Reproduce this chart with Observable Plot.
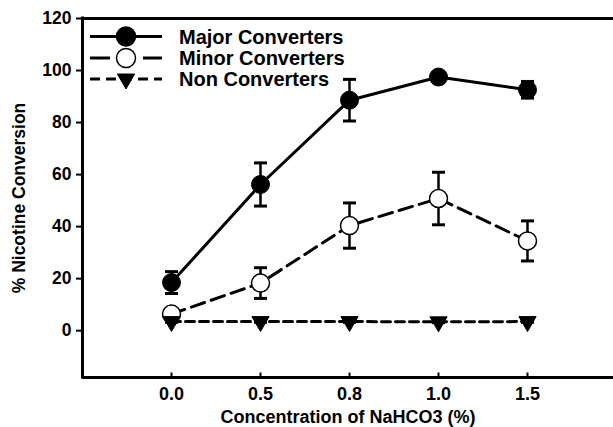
<!DOCTYPE html>
<html><head><meta charset="utf-8">
<script src="https://cdn.jsdelivr.net/npm/d3@7"></script>
<script src="https://cdn.jsdelivr.net/npm/@observablehq/plot@0.6"></script>
<style>
body{margin:0;background:#fff;}
#wrap{position:relative;width:613px;height:427px;overflow:hidden;}
#legend{position:absolute;left:0;top:0;pointer-events:none;}
</style></head><body><div id="wrap"></div>
<script>
const concentrations = ["0.0", "0.5", "0.8", "1.0", "1.5"];
const majorValues = [18.5, 56.2, 88.6, 97.5, 92.6];
const majorErrors = [4.2, 8.3, 8.0, 1.5, 3.2];
const minorValues = [6.4, 18.3, 40.4, 50.8, 34.5];
const minorErrors = [1.0, 5.9, 8.7, 10.1, 7.7];
const nonValues = [3.5, 3.5, 3.5, 3.4, 3.5];
const nonErrors = [0.3, 0.3, 0.3, 0.3, 0.3];
const seriesNames = ["Major Converters", "Minor Converters", "Non Converters"];
const yTicks = [0, 20, 40, 60, 80, 100, 120];
const yDomain = [-18, 120];
const xDomain = [-1, 5];

const FONT = "'Liberation Sans', Arial, sans-serif";
const xIdx = concentrations.map((_, i) => i);
const mk = (name, values, errors) => values.map((v, i) => ({series: name, i, value: v, lo: v - errors[i], hi: v + errors[i]}));
const major = mk(seriesNames[0], majorValues, majorErrors);
const minor = mk(seriesNames[1], minorValues, minorErrors);
const non = mk(seriesNames[2], nonValues, nonErrors);
const all = [...major, ...minor, ...non];

const hCap = {draw(ctx, size) { const r = Math.sqrt(size / Math.PI); ctx.moveTo(-r, 0); ctx.lineTo(r, 0); }};
const vTick = {draw(ctx, size) { const r = Math.sqrt(size / Math.PI); ctx.moveTo(0, 0); ctx.lineTo(0, -r); }};

const chart = Plot.plot({
  width: 613,
  height: 427,
  marginLeft: 82,
  marginRight: 0,
  marginTop: 18,
  marginBottom: 50,
  style: {fontFamily: FONT, fontSize: "18px", fontWeight: "bold", color: "#000", background: "#fff"},
  x: {type: "linear", domain: xDomain, range: [82, 616]},
  y: {domain: yDomain},
  marks: [
    Plot.axisY(yTicks, {tickSize: 6, tickPadding: 5, strokeWidth: 2, fontSize: 17.5, fontWeight: "bold",
      label: "% Nicotine Conversion", labelAnchor: "center", labelArrow: "none", labelOffset: 70}),
    Plot.axisX(xIdx, {tickSize: 0, tickPadding: 10, fontSize: 18, fontWeight: "bold",
      tickFormat: i => concentrations[i],
      label: "Concentration of NaHCO3 (%)", labelAnchor: "center", labelArrow: "none", labelOffset: 45}),
    Plot.ruleY(yDomain, {stroke: "black", strokeWidth: 3}),
    Plot.ruleX([xDomain[0]], {stroke: "black", strokeWidth: 3, strokeLinecap: "square"}),
    Plot.dot(xIdx, {x: d => d, frameAnchor: "bottom", symbol: vTick, r: 5, stroke: "black", strokeWidth: 2}),
    // error bars
    Plot.ruleX(all, {x: "i", y1: "lo", y2: "hi", stroke: "black", strokeWidth: 2.5}),
    Plot.dot(all, {x: "i", y: "hi", symbol: hCap, r: 6.5, stroke: "black", strokeWidth: 3}),
    Plot.dot(all, {x: "i", y: "lo", symbol: hCap, r: 6.5, stroke: "black", strokeWidth: 3}),
    // lines
    Plot.line(major, {x: "i", y: "value", stroke: "black", strokeWidth: 3}),
    Plot.line(minor, {x: "i", y: "value", stroke: "black", strokeWidth: 3, strokeDasharray: "14,7"}),
    Plot.line(non, {x: "i", y: "value", stroke: "black", strokeWidth: 3, strokeDasharray: "9,5"}),
    // markers
    Plot.dot(major, {x: "i", y: "value", r: 9, fill: "black", stroke: "black", strokeWidth: 1}),
    Plot.dot(minor, {x: "i", y: "value", r: 9, fill: "white", stroke: "black", strokeWidth: 1.5}),
    Plot.dot(non, {x: "i", y: "value", symbol: "triangle", rotate: 180, r: 6.4, fill: "black", stroke: "black", strokeWidth: 1})
  ]
});
document.getElementById("wrap").appendChild(chart);

// legend
const lg = d3.select("#wrap").append("svg").attr("id", "legend").attr("width", 613).attr("height", 427);
const legendItems = [
  {name: seriesNames[0], dash: null, sym: "circle", fill: "black"},
  {name: seriesNames[1], dash: "20,33", sym: "circle", fill: "white"},
  {name: seriesNames[2], dash: "10,6", sym: "triangle", fill: "black"}
];
const rowY = [36.5, 58, 79];
legendItems.forEach((it, k) => {
  const g = lg.append("g").attr("transform", `translate(0,${rowY[k]})`);
  g.append("line").attr("x1", 90).attr("x2", 162).attr("y1", 0).attr("y2", 0)
    .attr("stroke", "black").attr("stroke-width", 3).attr("stroke-dasharray", it.dash);
  if (it.sym === "circle") {
    g.append("circle").attr("cx", 126).attr("cy", 0).attr("r", 9.5)
      .attr("fill", it.fill).attr("stroke", "black").attr("stroke-width", 1.5);
  } else {
    g.append("path").attr("d", d3.symbol(d3.symbolTriangle, Math.PI * 6.4 * 6.4)())
      .attr("transform", "translate(126,0) rotate(180)").attr("fill", "black").attr("stroke", "black");
  }
  g.append("text").attr("x", 179).attr("y", 0).attr("dy", "0.36em")
    .attr("font-family", FONT).attr("font-size", 20).attr("font-weight", "bold").attr("fill", "black")
    .text(it.name);
});
</script></body></html>
